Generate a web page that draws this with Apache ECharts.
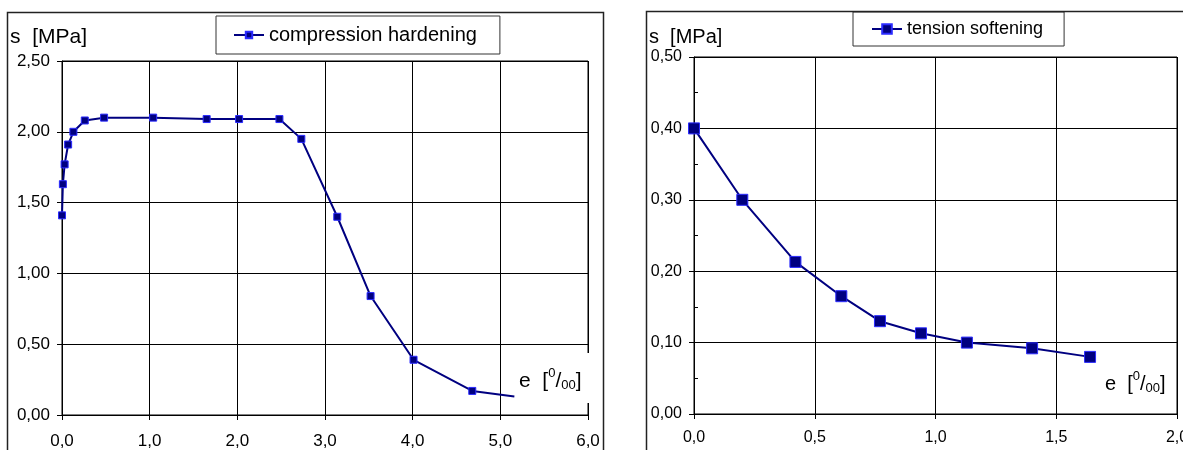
<!DOCTYPE html>
<html><head><meta charset="utf-8">
<script src="https://cdn.jsdelivr.net/npm/echarts@6/dist/echarts.min.js"></script>
<style>html,body{margin:0;padding:0;background:#fff}#c{width:1183px;height:450px}</style>
</head><body><div id="c"></div>
<script>
// ---- data ----
const compName = 'compression hardening';
const compStrain = [0, 0.01, 0.03, 0.07, 0.13, 0.26, 0.48, 1.04, 1.65, 2.02, 2.48, 2.73, 3.14, 3.52, 4.01, 4.68, 5.16];
const compStress = [1.41, 1.63, 1.77, 1.91, 2.00, 2.08, 2.10, 2.10, 2.09, 2.09, 2.09, 1.95, 1.40, 0.84, 0.39, 0.17, 0.13];
const tensName = 'tension softening';
const tensStrain = [0, 0.20, 0.42, 0.61, 0.77, 0.94, 1.13, 1.40, 1.64];
const tensStress = [0.40, 0.30, 0.213, 0.165, 0.13, 0.113, 0.10, 0.092, 0.08];
const compX = [0, 6, 1];      // min, max, interval
const compY = [0, 2.5, 0.5];
const tensX = [0, 2, 0.5];
const tensY = [0, 0.5, 0.1];
const yName = 's  [MPa]';

const FONT = 'Liberation Sans, Arial, sans-serif';
const comma = d => v => v.toFixed(d).replace('.', ',');
const navy = '#000080';

function xAx(gi, r, fs, margin) {
  return {
    type: 'value', gridIndex: gi, min: r[0], max: r[1], interval: r[2],
    axisLine: { show: true, onZero: false, lineStyle: { color: '#000', width: 1 } },
    axisTick: { show: true, length: 5, lineStyle: { color: '#000' } },
    axisLabel: { formatter: comma(1), color: '#000', fontSize: fs, fontFamily: FONT, margin: margin },
    splitLine: { show: true, lineStyle: { color: '#000', width: 1 } }
  };
}
function yAx(gi, r, fs, minor) {
  return {
    type: 'value', gridIndex: gi, min: r[0], max: r[1], interval: r[2],
    axisLine: { show: true, onZero: false, lineStyle: { color: '#000', width: 1 } },
    axisTick: { show: true, length: 5, lineStyle: { color: '#000' } },
    minorTick: minor ? { show: true, splitNumber: 2, length: -4, lineStyle: { color: '#000' } } : { show: false },
    axisLabel: { formatter: comma(2), color: '#000', fontSize: fs, fontFamily: FONT, margin: 12 },
    splitLine: { show: true, lineStyle: { color: '#000', width: 1 } }
  };
}

const eRich = (fs) => ({
  e: { fontSize: fs, lineHeight: 28, fontFamily: FONT, color: '#000' },
  b: { fontSize: fs, lineHeight: 28, fontFamily: FONT, color: '#000' },
  sup: { fontSize: 13, lineHeight: 13, verticalAlign: 'middle', padding: [0, 0, 15, 0], fontFamily: FONT, color: '#000' },
  sub: { fontSize: 13, lineHeight: 13, verticalAlign: 'middle', padding: [8, 0, 0, 0], fontFamily: FONT, color: '#000' }
});
const eText = '{e|e}  {b|[}{sup|0}{b|/}{sub|00}{b|]}';

const chart = echarts.init(document.getElementById('c'), null, { renderer: 'canvas' });
chart.setOption({
  animation: false,
  backgroundColor: '#fff',
  grid: [
    { left: 62, top: 61, width: 526, height: 354, show: true, borderColor: '#000', borderWidth: 1, backgroundColor: '#fff', containLabel: false, outerBoundsMode: 'none' },
    { left: 694, top: 57, width: 483, height: 357, show: true, borderColor: '#000', borderWidth: 1, backgroundColor: '#fff', containLabel: false, outerBoundsMode: 'none' }
  ],
  xAxis: [xAx(0, compX, 17, 18), xAx(1, tensX, 16, 16)],
  yAxis: [yAx(0, compY, 17, false), yAx(1, tensY, 16, true)],
  legend: [
    { data: [compName], left: 216, top: 16, padding: [9, 23, 9, 17], itemWidth: 30, itemHeight: 8, itemGap: 0,
      borderColor: '#333', borderWidth: 1, backgroundColor: '#fff',
      textStyle: { fontSize: 20, fontFamily: FONT, color: '#000' } },
    { data: [tensName], left: 853, top: 12, padding: [8, 21, 8, 18], itemWidth: 30, itemHeight: 12, itemGap: 0,
      borderColor: '#333', borderWidth: 1, backgroundColor: '#fff',
      textStyle: { fontSize: 18, fontFamily: FONT, color: '#000' } }
  ],
  series: [
    { name: compName, type: 'line', xAxisIndex: 0, yAxisIndex: 0,
      data: compStrain.map((x, i) => [x, compStress[i]]),
      symbol: 'rect', showAllSymbol: true,
      symbolSize: (v, p) => (p.dataIndex === compStrain.length - 1 ? 0 : 7),
      lineStyle: { color: navy, width: 2 },
      itemStyle: { color: navy, borderColor: '#2a2aff', borderWidth: 1 } },
    { name: tensName, type: 'line', xAxisIndex: 1, yAxisIndex: 1,
      data: tensStrain.map((x, i) => [x, tensStress[i]]),
      symbol: 'rect', showAllSymbol: true, symbolSize: 11,
      lineStyle: { color: navy, width: 2 },
      itemStyle: { color: navy, borderColor: '#2a2aff', borderWidth: 1 } }
  ],
  graphic: [
    { type: 'rect', z: 50, shape: { x: 7.5, y: 12.5, width: 596, height: 470 }, style: { fill: 'none', stroke: '#222', lineWidth: 1.5 } },
    { type: 'rect', z: 50, shape: { x: 646.5, y: 11.5, width: 600, height: 470 }, style: { fill: 'none', stroke: '#222', lineWidth: 1.5 } },
    { type: 'text', z: 60, x: 10, y: 37, style: { text: yName, fontSize: 21, fontFamily: FONT, fill: '#000', verticalAlign: 'middle', align: 'left' } },
    { type: 'text', z: 60, x: 649, y: 37, style: { text: yName, fontSize: 20, fontFamily: FONT, fill: '#000', verticalAlign: 'middle', align: 'left' } },
    { type: 'rect', z: 55, shape: { x: 517, y: 353, width: 76, height: 50 }, style: { fill: '#fff' } },
    { type: 'text', z: 60, x: 519, y: 381, style: { text: eText, rich: eRich(21), fontSize: 21, fontFamily: FONT, fill: '#000', verticalAlign: 'middle', align: 'left' } },
    { type: 'text', z: 60, x: 1105, y: 384, style: { text: eText, rich: eRich(20), fontSize: 20, fontFamily: FONT, fill: '#000', verticalAlign: 'middle', align: 'left' } }
  ]
});
</script></body></html>
